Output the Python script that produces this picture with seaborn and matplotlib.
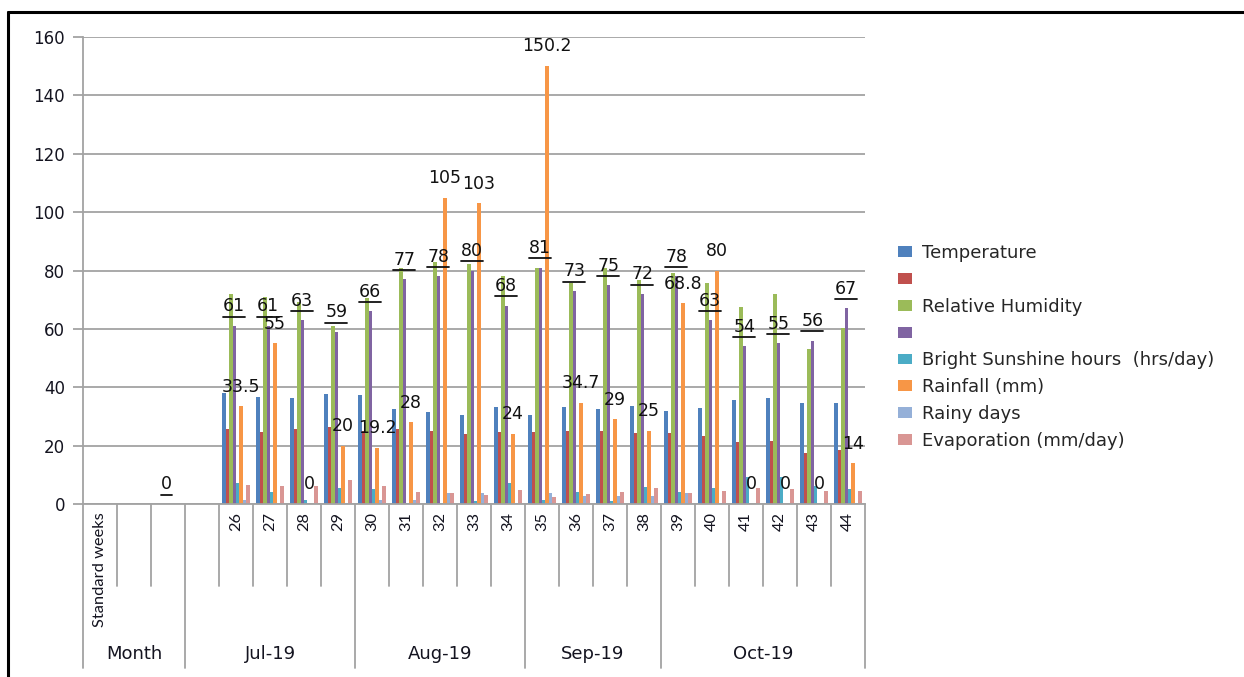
import numpy as np
import pandas as pd
import matplotlib
matplotlib.use("Agg")
import matplotlib.pyplot as plt
import seaborn as sns
from matplotlib.patches import Patch
from matplotlib.lines import Line2D
import matplotlib.transforms as mtransforms

nan = np.nan

# Category axis: first level (weeks) and second level (months)
week_labels = ["Standard weeks", "", "", "",
               "26", "27", "28", "29", "30", "31", "32", "33", "34",
               "35", "36", "37", "38", "39", "40", "41", "42", "43", "44"]
month_labels = ["Month", "Jul-19", "Aug-19", "Sep-19", "Oct-19"]
month_spans = [3, 5, 5, 4, 6]

lead = [nan, nan, nan, nan]
temp_max = lead + [37.9, 36.8, 36.4, 37.7, 37.2, 32.4, 31.4, 30.5, 33.2, 30.5,
                   33.3, 32.4, 33.7, 32.0, 32.8, 35.5, 36.4, 34.7, 34.7]
temp_min = lead + [25.6, 24.8, 25.6, 26.5, 25.0, 25.6, 25.1, 23.9, 24.8, 24.8,
                   25.1, 25.1, 24.2, 24.2, 23.4, 21.1, 21.7, 17.6, 18.5]
rh_max = lead + [71.8, 71.0, 69.3, 61.1, 70.5, 80.7, 82.8, 82.1, 78.1, 80.7,
                 75.8, 80.7, 76.7, 79.0, 75.8, 67.6, 71.8, 53.0, 60.2]
rh_min = [nan, nan, 0, nan] + [61, 61, 63, 59, 66, 77, 78, 80, 68, 81,
                               73, 75, 72, 78, 63, 54, 55, 56, 67]
sunshine = lead + [7.3, 4.1, 1.5, 5.6, 5.0, 0.3, 0.2, 1.0, 7.3, 1.4,
                   4.1, 1.0, 5.9, 4.1, 5.5, 9.1, 9.2, 6.0, 5.0]
rainfall = lead + [33.5, 55, 0, 20, 19.2, 28, 105, 103, 24, 150.2,
                   34.7, 29, 25, 68.8, 80, 0, 0, 0, 14]
rainy_days = lead + [1.4, 0.3, 0, 0.3, 1.4, 1.4, 3.8, 3.8, 0.3, 3.8,
                     2.8, 2.8, 2.8, 3.7, 0.3, 0, 0, 0, 0.3]
evaporation = lead + [6.5, 6.1, 6.1, 8.2, 6.1, 4.2, 3.6, 3.0, 4.7, 2.4,
                      3.3, 4.1, 5.5, 3.7, 4.6, 5.5, 5.0, 4.6, 4.6]

series_keys = ["Max temperature", "Min temperature", "Max RH", "Min RH",
               "Sunshine", "Rainfall", "Rainy days", "Evaporation"]
legend_labels = ["Temperature", "", "Relative Humidity", "",
                 "Bright Sunshine hours  (hrs/day)", "Rainfall (mm)",
                 "Rainy days", "Evaporation (mm/day)"]
series_values = [temp_max, temp_min, rh_max, rh_min,
                 sunshine, rainfall, rainy_days, evaporation]
colors = ["#4F81BD", "#C0504D", "#9BBB59", "#8064A2",
          "#4BACC6", "#F79646", "#95B0D8", "#D99694"]

rows = []
for key, vals in zip(series_keys, series_values):
    for pos, v in enumerate(vals):
        if not np.isnan(v):
            rows.append({"pos": pos, "series": key, "value": v})
df = pd.DataFrame(rows)

sns.set_theme(style="white")
plt.rcParams["font.family"] = ["DejaVu Sans"]

W, H = 1244, 677
fig = plt.figure(figsize=(W / 100, H / 100), dpi=100)
ax_left, ax_right, ax_top, ax_bottom = 83, 865, 37, 504
ax = fig.add_axes([ax_left / W, 1 - ax_bottom / H,
                   (ax_right - ax_left) / W, (ax_bottom - ax_top) / H])

n_cat = len(week_labels)
sns.barplot(data=df, x="pos", y="value", hue="series",
            order=list(range(n_cat)), hue_order=series_keys,
            palette=colors, saturation=1, errorbar=None, width=0.8,
            linewidth=0, legend=False, ax=ax)

grid_col = "#a3a3a3"
text_col = "#141420"
ax.set_ylim(0, 160)
ax.set_xlim(-0.5, n_cat - 0.5)
ax.set_yticks(np.arange(0, 161, 20))
ax.yaxis.grid(True, color=grid_col, lw=1.3)
ax.set_axisbelow(True)
ax.set_xlabel("")
ax.set_ylabel("")
ax.set_xticks([])
for s in ["top", "right"]:
    ax.spines[s].set_visible(False)
for s in ["left", "bottom"]:
    ax.spines[s].set_color(grid_col)
    ax.spines[s].set_linewidth(1.3)
ax.tick_params(axis="y", direction="out", length=7, width=1.3, color=grid_col,
               pad=6, labelsize=12, labelcolor=text_col, left=True)

# Multi-level category axis drawn below the plot
trans = mtransforms.blended_transform_factory(ax.transData, ax.transAxes)
axis_h = ax_bottom - ax_top
short_y = -(586 - ax_bottom) / axis_h
long_y = -(668 - ax_bottom) / axis_h
bounds = np.cumsum([0] + month_spans)
for k in range(n_cat + 1):
    y1 = long_y if k in bounds else short_y
    ax.add_line(Line2D([k - 0.5, k - 0.5], [0, y1], transform=trans,
                       color=grid_col, lw=1.3, clip_on=False))

week_top = -(512 - ax_bottom) / axis_h
for i, lab in enumerate(week_labels):
    if lab:
        ax.text(i, week_top, lab, transform=trans, rotation=90,
                ha="center", va="top", fontsize=11.8, family="Lato",
                color=text_col)

month_y = -(654 - ax_bottom) / axis_h
for j, lab in enumerate(month_labels):
    center = (bounds[j] + bounds[j + 1]) / 2 - 0.5
    ax.text(center, month_y, lab, transform=trans, ha="center", va="center",
            fontsize=13, color=text_col)

# Value labels for the humidity (underlined) and rainfall series
label_texts = []
for idx, underline in [(3, True), (5, False)]:
    for bar in ax.containers[idx]:
        v = bar.get_height()
        if np.isnan(v):
            continue
        x = bar.get_x() + bar.get_width() / 2
        t = ax.annotate(f"{v:g}", (x, v), xytext=(0, 10.5),
                        textcoords="offset points", ha="center",
                        va="baseline", fontsize=12.5, color="#111111",
                        annotation_clip=False)
        label_texts.append((t, underline))

fig.canvas.draw()
renderer = fig.canvas.get_renderer()
for t, underline in label_texts:
    if not underline:
        continue
    bb = t.get_window_extent(renderer)
    y_px = bb.y0 - 1.5
    fig.add_artist(Line2D([bb.x0 / W, bb.x1 / W], [y_px / H, y_px / H],
                          transform=fig.transFigure, color="#111111", lw=1.3))

handles = [Patch(facecolor=c, edgecolor="none") for c in colors]
fig.legend(handles, legend_labels, loc="upper left",
           bbox_to_anchor=(898 / W, 1 - 244 / H), frameon=False,
           fontsize=13, handlelength=0.8, handleheight=0.55,
           handletextpad=0.55, labelspacing=0.49, borderpad=0,
           borderaxespad=0)

# Outer frame lines along the left and top edges
fig.add_artist(Line2D([8 / W, 8 / W], [0, 1 - 12 / H],
                      transform=fig.transFigure, color="black", lw=2.2))
fig.add_artist(Line2D([8 / W, 1], [1 - 12 / H, 1 - 12 / H],
                      transform=fig.transFigure, color="black", lw=2.2))

fig.savefig("out.png", dpi=100, facecolor="white")
